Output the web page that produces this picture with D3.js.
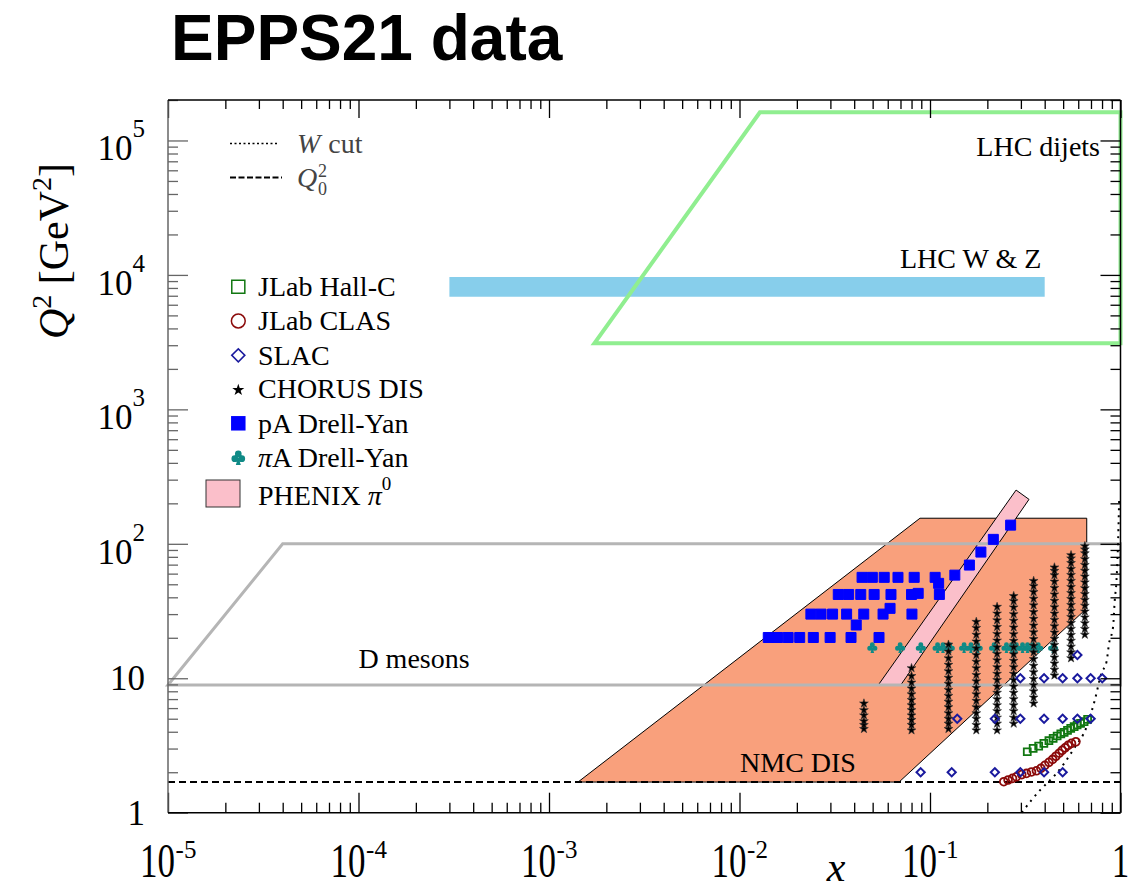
<!DOCTYPE html>
<html><head><meta charset="utf-8">
<script src="https://cdn.jsdelivr.net/npm/d3@7"></script>
<style>body{margin:0;background:#fff} svg{display:block}</style>
</head><body>
<svg id="chart" width="1143" height="892"></svg>
<script>
// ---------------- data (x, Q^2 in GeV^2) ----------------
const dMesonsX = [1e-5, 4.0e-5, 1, 1];
const dMesonsQ2 = [8.9, 100, 100, 8.9];
const dijetsX = [1.73e-3, 0.0128, 1, 1];
const dijetsQ2 = [3100, 1.62e5, 1.62e5, 3100];
const wzX = [3.0e-4, 0.40, 0.40, 3.0e-4];
const wzQ2 = [6870, 6870, 9660, 9660];
const nmcX = [1.42e-3, 0.0886, 0.665, 0.665, 0.0688];
const nmcQ2 = [1.69, 155, 155, 33.1, 1.69];
const phenixX = [0.0535, 0.0702, 0.331, 0.283];
const phenixQ2 = [8.9, 8.9, 214, 251];
const q0sq = 1.69;
const wcutX = [0.303, 0.341, 0.378, 0.417, 0.461, 0.564, 0.664, 0.733, 0.794, 0.845, 0.871, 0.914, 0.933, 0.953, 0.968, 0.984];
const wcutQ2 = [1.0, 1.24, 1.47, 1.69, 1.96, 2.93, 4.36, 6.88, 10.9, 13.3, 18.2, 24.1, 38.1, 53.7, 89.8, 211];

const hallcX = [0.324,0.348,0.372,0.396,0.421,0.443,0.465,0.486,0.506,0.527,0.548,0.571,0.592,0.617,0.644,0.672];
const hallcQ2 = [2.84,3.01,3.13,3.28,3.43,3.57,3.72,3.85,3.96,4.10,4.24,4.36,4.49,4.62,4.75,4.95];
const clasX = [0.244,0.257,0.271,0.284,0.303,0.321,0.341,0.362,0.382,0.401,0.421,0.440,0.458,0.477,0.494,0.512,0.531,0.553,0.583];
const clasQ2 = [1.70,1.75,1.80,1.85,1.92,1.96,2.01,2.05,2.14,2.25,2.37,2.49,2.63,2.77,2.91,3.04,3.17,3.28,3.37];
const slacX = [0.594, 0.298,0.397,0.497,0.594,0.697,0.802, 0.139,0.219,0.298,0.397,0.497,0.594,0.697, 0.0893,0.130,0.219,0.298,0.397,0.497];
const slacQ2 = [14.9, 10,10,10,10,10,10, 5,5,5,5,5,5,5, 2,2,2,2,2,2];
const pADYX = [0.0440,0.0498,0.0575,0.0679,0.0826,0.1064,0.111,
  0.0330,0.0374,0.0433,0.0509,0.0624,0.0800,0.0867,0.112,
  0.0237,0.0268,0.0308,0.0365,0.0449,0.0567,0.0617,0.0804,
  0.0410,
  0.01416,0.01585,0.0180,0.0207,0.0244,0.0299,0.0385,0.0540,
  0.135,0.161,0.185,0.215,0.265];
const pADYQ2 = [56.3,56.3,56.3,56.3,56.3,56.3,50.8,
  42.0,42.0,42.0,42.0,42.0,42.0,42.8,42.0,
  30.0,30.0,30.0,30.0,30.0,30.0,33.1,30.0,
  24.9,
  20.1,20.1,20.1,20.1,20.1,20.1,20.1,20.1,
  58.5,69.5,86.8,107.9,137.7];
const piADYX = [0.0498,0.0697,0.0895,0.1096,0.117,0.127,0.151,0.164,0.178,0.217,0.252,0.268,0.284,0.306,0.325,0.345,0.370,0.443];
const piADYQ2 = [17,17,17,17,17,17,17,17,17,17,17,17,17,17,17,17,17,17];
const chorusX = [0.045, 0.080, 0.125, 0.175, 0.225, 0.275, 0.35, 0.45, 0.55, 0.65];
const chorusQ2 = [
  [4.2, 4.5, 4.8, 5.3, 5.8, 6.5],
  [4.1, 4.5, 4.9, 5.3, 5.8, 6.3, 6.9, 7.6, 8.4, 9.3, 10.4, 11.9],
  [4.2, 4.6, 5.0, 5.5, 6.1, 6.7, 7.4, 8.2, 9.1, 10.1, 11.3, 12.6, 14.1, 15.8, 17.8],
  [4.1, 4.5, 5.0, 5.5, 6.1, 6.8, 7.6, 8.5, 9.5, 10.6, 11.9, 13.3, 14.9, 16.7, 18.8, 21.1, 23.7, 26.3],
  [4.1, 4.6, 5.1, 5.7, 6.3, 7.0, 7.8, 8.7, 9.7, 10.8, 12.1, 13.6, 15.2, 17.0, 19.1, 21.4, 24.1, 27.0, 30.3, 34.0],
  [4.6, 5.1, 5.7, 6.3, 7.0, 7.8, 8.7, 9.7, 10.8, 12.1, 13.5, 15.1, 17.0, 19.0, 21.3, 23.9, 26.8, 30.0, 33.7, 37.5, 40.9],
  [6.5, 7.2, 8.0, 8.9, 9.9, 11.1, 12.4, 13.9, 15.6, 17.5, 19.6, 22.0, 24.7, 27.7, 31.1, 34.9, 39.1, 43.8, 48.5, 53.0],
  [10.5, 11.6, 12.9, 14.3, 15.9, 17.7, 19.7, 21.9, 24.4, 27.2, 30.3, 33.8, 37.7, 42.1, 47.0, 52.4, 58.5, 63.0, 66.8],
  [14.1, 15.6, 17.2, 19.0, 21.0, 23.3, 25.8, 28.6, 31.7, 35.1, 38.9, 43.1, 47.8, 53.0, 58.7, 65.0, 72.0, 78.0, 82.4],
  [21.1, 23.3, 25.7, 28.4, 31.4, 34.7, 38.3, 42.3, 46.8, 51.7, 57.1, 63.1, 69.7, 77.0, 85.1, 91.0, 96.2]
];

const xTickVals = [1e-5, 1e-4, 1e-3, 1e-2, 1e-1, 1];
const xTickBase = ["10", "10", "10", "10", "10", "1"];
const xTickExp = ["-5", "-4", "-3", "-2", "-1", ""];
const yTickVals = [1, 10, 100, 1e3, 1e4, 1e5];
const yTickBase = ["1", "10", "10", "10", "10", "10"];
const yTickExp = ["", "", "2", "3", "4", "5"];

// ---------------- drawing ----------------
const SERIF = "'Liberation Serif','DejaVu Serif',serif";
const X0 = 168, X1 = 1120.5, Y0 = 812.7, Y1 = 100;
const x = d3.scaleLog().domain([1e-5, 1]).range([X0, X1]);
const y = d3.scaleLog().domain([1, 2e5]).range([Y0, Y1]);
const svg = d3.select("#chart");

const poly = (xs, qs) => d3.line()(xs.map((v, i) => [x(v), y(qs[i])])) + "Z";

const symbolClub = {
  draw(ctx, size) {
    const r = Math.sqrt(size) * 0.22;
    const cs = [[0, -1.05 * r], [-1.05 * r, 0.4 * r], [1.05 * r, 0.4 * r]];
    cs.forEach(c => { ctx.moveTo(c[0] + r, c[1]); ctx.arc(c[0], c[1], r, 0, 2 * Math.PI); });
    ctx.moveTo(0, 0); ctx.lineTo(0.75 * r, 2.3 * r); ctx.lineTo(-0.75 * r, 2.3 * r); ctx.closePath();
  }
};

// regions
svg.append("path").attr("d", poly(wzX, wzQ2)).attr("fill", "#87CEEB");
svg.append("path").attr("d", poly(dijetsX, dijetsQ2)).attr("fill", "none")
  .attr("stroke", "#90EE90").attr("stroke-width", 4);
svg.append("path").attr("d", poly(nmcX, nmcQ2)).attr("fill", "#F9A07C")
  .attr("stroke", "#000").attr("stroke-width", 1);
svg.append("path").attr("d", poly(phenixX, phenixQ2)).attr("fill", "#FBBFCA")
  .attr("stroke", "#000").attr("stroke-width", 1);
svg.append("path").attr("d", poly(dMesonsX, dMesonsQ2)).attr("fill", "none")
  .attr("stroke", "#b5b5b5").attr("stroke-width", 3);

// Q0^2 and W cut
svg.append("path").attr("d", d3.line()([[x(1e-5), y(q0sq)], [x(1), y(q0sq)]]))
  .attr("stroke", "#000").attr("stroke-width", 2).attr("stroke-dasharray", "7,4").attr("fill", "none");
svg.append("path")
  .attr("d", d3.line().curve(d3.curveMonotoneX)(wcutX.map((v, i) => [x(v), y(wcutQ2[i])])))
  .attr("stroke", "#000").attr("stroke-width", 2).attr("stroke-dasharray", "2,5").attr("fill", "none");

// points
const pts = (xs, qs) => xs.map((v, i) => [v, qs[i]]);
svg.append("g").selectAll("path").data(pts(piADYX, piADYQ2)).join("path")
  .attr("transform", d => `translate(${x(d[0])},${y(d[1])})`)
  .attr("d", d3.symbol().type(symbolClub).size(125)()).attr("fill", "#0f8a86");
const starPts = [];
chorusX.forEach((cx, i) => chorusQ2[i].forEach(q => starPts.push([cx, q])));
svg.append("g").selectAll("path").data(starPts).join("path")
  .attr("transform", d => `translate(${x(d[0])},${y(d[1])})`)
  .attr("d", d3.symbol().type(d3.symbolStar).size(24)()).attr("fill", "#000")
  .attr("stroke", "#333").attr("stroke-width", 0.6);
svg.append("g").selectAll("path").data(pts(pADYX, pADYQ2)).join("path")
  .attr("transform", d => `translate(${x(d[0])},${y(d[1])})`)
  .attr("d", d3.symbol().type(d3.symbolSquare).size(100)()).attr("fill", "#0000ff")
  .attr("stroke", "#0000ff").attr("stroke-width", 1).attr("stroke-linejoin", "round");
svg.append("g").selectAll("path").data(pts(hallcX, hallcQ2)).join("path")
  .attr("transform", d => `translate(${x(d[0])},${y(d[1])})`)
  .attr("d", d3.symbol().type(d3.symbolSquare).size(48)()).attr("fill", "none")
  .attr("stroke", "#117711").attr("stroke-width", 1.8);
svg.append("g").selectAll("path").data(pts(clasX, clasQ2)).join("path")
  .attr("transform", d => `translate(${x(d[0])},${y(d[1])})`)
  .attr("d", d3.symbol().type(d3.symbolCircle).size(48)()).attr("fill", "none")
  .attr("stroke", "#8b0a0a").attr("stroke-width", 1.8);
svg.append("g").selectAll("path").data(pts(slacX, slacQ2)).join("path")
  .attr("transform", d => `translate(${x(d[0])},${y(d[1])}) rotate(45)`)
  .attr("d", d3.symbol().type(d3.symbolSquare).size(34)()).attr("fill", "none")
  .attr("stroke", "#1a1a9e").attr("stroke-width", 2);

// axes (ticks inside)
const isMajor = v => Math.abs(Math.log10(v) - Math.round(Math.log10(v))) < 1e-9;
const yt = y.ticks(), xt = x.ticks();
const gl = svg.append("g").attr("transform", `translate(${X0},0)`)
  .call(d3.axisLeft(y).tickValues(yt).tickSizeInner(-10).tickSizeOuter(0).tickFormat(""));
gl.selectAll(".tick line").attr("x2", d => isMajor(d) ? 20 : 10).attr("stroke", "#666").attr("stroke-width", 1.3);
const gr = svg.append("g").attr("transform", `translate(${X1},0)`)
  .call(d3.axisRight(y).tickValues(yt).tickSizeInner(-10).tickSizeOuter(0).tickFormat(""));
gr.selectAll(".tick line").attr("x2", d => isMajor(d) ? -20 : -10).attr("stroke", "#000").attr("stroke-width", 1.3);
const gb = svg.append("g").attr("transform", `translate(0,${Y0})`)
  .call(d3.axisBottom(x).tickValues(xt).tickSizeInner(-10).tickSizeOuter(0).tickFormat(""));
gb.selectAll(".tick line").attr("y2", d => isMajor(d) ? -20 : -10).attr("stroke", "#000").attr("stroke-width", 1.3);
const gt = svg.append("g").attr("transform", `translate(0,${Y1})`)
  .call(d3.axisTop(x).tickValues(xt).tickSizeInner(-10).tickSizeOuter(0).tickFormat(""));
gt.selectAll(".tick line").attr("y2", d => isMajor(d) ? 18 : 9).attr("stroke", "#000").attr("stroke-width", 1.3);
[gl, gr, gb, gt].forEach(g => g.select(".domain").remove());

// frame
svg.append("line").attr("x1", X0).attr("x2", X0).attr("y1", Y1).attr("y2", Y0).attr("stroke", "#666").attr("stroke-width", 1.5);
svg.append("line").attr("x1", X1).attr("x2", X1).attr("y1", Y1).attr("y2", Y0).attr("stroke", "#000").attr("stroke-width", 1.5);
svg.append("line").attr("x1", X0).attr("x2", X1).attr("y1", Y0).attr("y2", Y0).attr("stroke", "#000").attr("stroke-width", 1.5);
svg.append("line").attr("x1", X0).attr("x2", X1).attr("y1", Y1).attr("y2", Y1).attr("stroke", "#000").attr("stroke-width", 1.5);

// y tick labels
yTickVals.forEach((v, i) => {
  const t = svg.append("text").attr("x", 145).attr("y", y(v) + (yTickExp[i] ? 20 : 12))
    .attr("text-anchor", "end").attr("font-family", SERIF).attr("font-size", 35).attr("fill", "#000");
  t.append("tspan").text(yTickBase[i]);
  if (yTickExp[i]) t.append("tspan").attr("font-size", 25).attr("dy", -23).text(yTickExp[i]);
});
// x tick labels
xTickVals.forEach((v, i) => {
  const g = svg.append("g");
  const main = g.append("text").attr("font-family", SERIF).attr("font-size", 35).text(xTickBase[i]);
  const wm = main.node().getComputedTextLength();
  let we = 0, ex = null;
  if (xTickExp[i]) {
    ex = g.append("text").attr("font-family", SERIF).attr("font-size", 25).text(xTickExp[i]);
    we = ex.node().getComputedTextLength();
  }
  const left = x(v) - (wm + we) / 2;
  main.attr("transform", `translate(${left},877) scale(1,1.38)`);
  if (ex) ex.attr("x", left + wm + 0.5).attr("y", 858);
});

// axis titles
svg.append("text").attr("x", 836).attr("y", 881).attr("text-anchor", "middle")
  .attr("font-family", SERIF).attr("font-style", "italic").attr("font-size", 42).text("x");
const yt1 = svg.append("text").attr("transform", "translate(68,251) rotate(-90)")
  .attr("text-anchor", "middle").attr("font-family", SERIF).attr("font-size", 42);
yt1.append("tspan").attr("font-style", "italic").text("Q");
yt1.append("tspan").attr("font-size", 28).attr("dy", -17).text("2");
yt1.append("tspan").attr("dy", 17).text(" [GeV");
yt1.append("tspan").attr("font-size", 28).attr("dy", -17).text("2");
yt1.append("tspan").attr("dy", 17).text("]");

// title
svg.append("text").attr("x", 171).attr("y", 60).attr("font-family", "'Liberation Sans',Arial,sans-serif")
  .attr("font-weight", "bold").attr("font-size", 64).attr("fill", "#000").text("EPPS21 data");

// region labels
const lab = (tx, ty, s, anchor) => svg.append("text").attr("x", tx).attr("y", ty).attr("text-anchor", anchor)
  .attr("font-family", SERIF).attr("font-size", 28).attr("fill", "#000").text(s);
lab(1100, 156, "LHC dijets", "end");
lab(900, 268, "LHC W & Z", "start");
lab(414, 668, "D mesons", "middle");
lab(798, 772, "NMC DIS", "middle");

// legend: lines
svg.append("line").attr("x1", 230).attr("x2", 278).attr("y1", 143.5).attr("y2", 143.5)
  .attr("stroke", "#000").attr("stroke-width", 1.5).attr("stroke-dasharray", "2,2.5");
svg.append("line").attr("x1", 230).attr("x2", 282).attr("y1", 177.5).attr("y2", 177.5)
  .attr("stroke", "#000").attr("stroke-width", 2).attr("stroke-dasharray", "6,2.5");
const wl = svg.append("text").attr("x", 297).attr("y", 153).attr("font-family", SERIF).attr("font-size", 28).attr("fill", "#444");
wl.append("tspan").attr("font-style", "italic").text("W");
wl.append("tspan").attr("dx", 8).text("cut");
svg.append("text").attr("x", 297).attr("y", 187).attr("font-family", SERIF).attr("font-size", 28)
  .attr("font-style", "italic").attr("fill", "#444").text("Q");
svg.append("text").attr("x", 318).attr("y", 177).attr("font-family", SERIF).attr("font-size", 18).attr("fill", "#444").text("2");
svg.append("text").attr("x", 318).attr("y", 195).attr("font-family", SERIF).attr("font-size", 18).attr("fill", "#444").text("0");

// legend: markers
const LX = 238.3;
const legendNames = ["JLab Hall-C", "JLab CLAS", "SLAC", "CHORUS DIS", "pA Drell-Yan", "\u03c0A Drell-Yan", "PHENIX \u03c0"];
const legY = [286.7, 321, 355.3, 390, 423.3, 458.3, 493.5];
const legBase = [296, 330, 365, 398, 433, 467, 505];
svg.append("path").attr("transform", `translate(${LX},${legY[0]})`)
  .attr("d", d3.symbol().type(d3.symbolSquare).size(170)()).attr("fill", "none").attr("stroke", "#117711").attr("stroke-width", 1.5);
svg.append("path").attr("transform", `translate(${LX},${legY[1]})`)
  .attr("d", d3.symbol().type(d3.symbolCircle).size(150)()).attr("fill", "none").attr("stroke", "#8b0a0a").attr("stroke-width", 1.5);
svg.append("path").attr("transform", `translate(${LX},${legY[2]}) rotate(45)`)
  .attr("d", d3.symbol().type(d3.symbolSquare).size(85)()).attr("fill", "none").attr("stroke", "#1a1a9e").attr("stroke-width", 1.6);
svg.append("path").attr("transform", `translate(${LX},${legY[3]})`)
  .attr("d", d3.symbol().type(d3.symbolStar).size(45)()).attr("fill", "#000");
svg.append("path").attr("transform", `translate(${LX},${legY[4]})`)
  .attr("d", d3.symbol().type(d3.symbolSquare).size(210)()).attr("fill", "#0000ff");
svg.append("path").attr("transform", `translate(${LX},${legY[5] - 1})`)
  .attr("d", d3.symbol().type(symbolClub).size(230)()).attr("fill", "#0f8a86");
svg.append("rect").attr("x", 206).attr("y", 480).attr("width", 34).attr("height", 27)
  .attr("fill", "#FBBFCA").attr("stroke", "#333").attr("stroke-width", 1);
legendNames.forEach((n, i) => {
  const t = svg.append("text").attr("x", 258).attr("y", legBase[i]).attr("font-family", SERIF)
    .attr("font-size", 28).attr("fill", "#000");
  if (n.startsWith("\u03c0")) {
    t.append("tspan").attr("font-style", "italic").text("\u03c0");
    t.append("tspan").text(n.slice(1));
  } else if (n.endsWith("\u03c0")) {
    t.append("tspan").text(n.slice(0, -1));
    t.append("tspan").attr("font-style", "italic").text("\u03c0");
    t.append("tspan").attr("font-size", 19).attr("dy", -15).text("0");
  } else {
    t.text(n);
  }
});
</script>
</body></html>
